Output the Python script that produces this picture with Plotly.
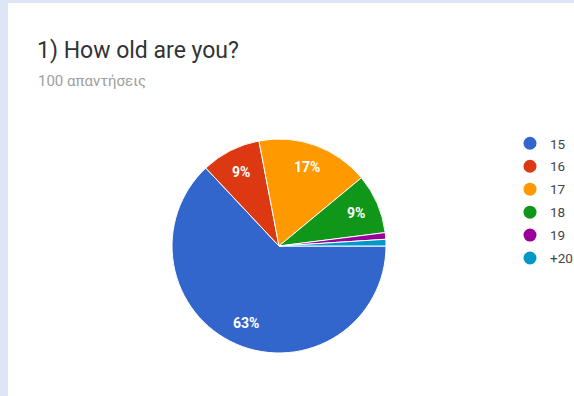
import math
import plotly.graph_objects as go

# Survey answers: age of respondents
ages = ["15", "16", "17", "18", "19", "+20"]
counts = [63, 9, 17, 9, 1, 1]
colors = ["#3366cc", "#dc3912", "#ff9900", "#109618", "#990099", "#0099c6"]

W, H = 574, 396
CX, CY, R = 279, 246, 107      # pie centre and radius, in pixels
LABEL_R = 0.78                 # radial position of percentage labels
START = 90                     # first slice starts at 3 o'clock

fig = go.Figure()

fig.add_trace(go.Pie(
    labels=ages,
    values=counts,
    marker=dict(colors=colors, line=dict(color="#ffffff", width=1)),
    sort=False,
    direction="clockwise",
    rotation=START,
    textinfo="none",
    showlegend=False,
    hoverinfo="label+percent",
    domain=dict(x=[(CX - R) / W, (CX + R) / W],
                y=[1 - (CY + R) / H, 1 - (CY - R) / H]),
))

# Percentage labels at the middle angle of each slice (skip tiny slices)
total = sum(counts)
labels = []
cum = 0
for c in counts:
    share = c / total
    theta = math.radians((cum + c / 2) / total * 360)  # clockwise from 3 o'clock
    cum += c
    if share < 0.05:
        continue
    px = CX + LABEL_R * R * math.cos(theta)
    py = CY + LABEL_R * R * math.sin(theta)
    labels.append(dict(
        text=f"{share:.0%}", xref="paper", yref="paper",
        x=px / W, y=1 - py / H, xanchor="center", yanchor="middle",
        showarrow=False,
        font=dict(family="Roboto", size=14, color="#ffffff", weight="bold"),
    ))

# Legend entries with round swatches
for i, (a, c) in enumerate(zip(ages, colors)):
    fig.add_trace(go.Scatter(
        x=[None], y=[None], mode="markers", name=a,
        marker=dict(color=c, size=13, symbol="circle"),
        legendgroup=f"g{i}", showlegend=True,
    ))

fig.update_layout(
    width=W, height=H,
    margin=dict(l=0, r=0, t=0, b=0, autoexpand=False),
    paper_bgcolor="#dde6f6",
    plot_bgcolor="rgba(0,0,0,0)",
    xaxis=dict(visible=False),
    yaxis=dict(visible=False),
    font=dict(family="Roboto", color="#444444"),
    legend=dict(
        x=510 / W, y=1 - 128 / H, xanchor="left", yanchor="top",
        bgcolor="rgba(0,0,0,0)",
        font=dict(family="Roboto", size=13.5, color="#444444"),
        tracegroupgap=2.4,
        itemwidth=30,
    ),
    shapes=[
        dict(type="rect", xref="paper", yref="paper",
             x0=8 / W, x1=1, y0=0, y1=1 - 3 / H,
             fillcolor="#ffffff", line=dict(width=0), layer="below"),
    ],
    annotations=[
        dict(text="1) How old are you?", xref="paper", yref="paper",
             x=35 / W, y=1 - 35 / H, xanchor="left", yanchor="top",
             showarrow=False,
             font=dict(family="Roboto", size=23, color="#333333")),
        dict(text="100 απαντήσεις", xref="paper", yref="paper",
             x=36 / W, y=1 - 70 / H, xanchor="left", yanchor="top",
             showarrow=False,
             font=dict(family="Roboto", size=15, color="#9e9e9e")),
    ] + labels,
)

fig.write_html("out.html")
